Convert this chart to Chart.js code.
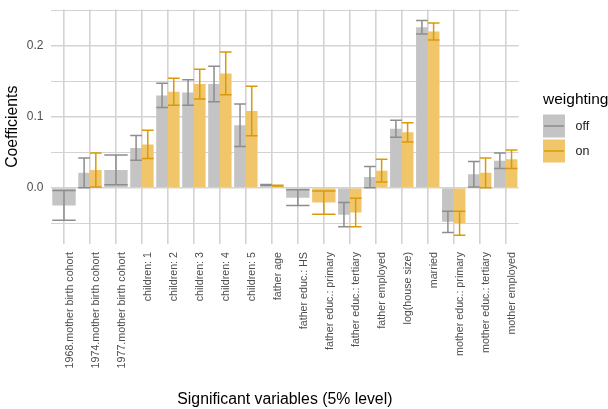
<!DOCTYPE html>
<html>
<head>
<meta charset="utf-8">
<script src="https://cdn.jsdelivr.net/npm/chart.js@4/dist/chart.umd.min.js"></script>
<style>
  html, body { margin: 0; padding: 0; background: #ffffff; }
  #wrap { width: 608px; height: 409px; }
</style>
</head>
<body>
<div id="wrap"><canvas id="chart" width="608" height="409"></canvas></div>
<script>
// Regression coefficients of the significant variables, with and without weighting
const categories = [
  "1968.mother birth cohort", "1974.mother birth cohort", "1977.mother birth cohort",
  "children: 1", "children: 2", "children: 3", "children: 4", "children: 5",
  "father age", "father educ.: HS", "father educ.: primary", "father educ.: tertiary",
  "father employed", "log(house size)", "married",
  "mother educ.: primary", "mother educ.: tertiary", "mother employed"
];

// weighting = off
const offCoef = [-0.025, 0.021, 0.025, 0.056, 0.130, 0.134, 0.146, 0.088, 0.004, -0.014, null, -0.038, 0.015, 0.083, 0.226, -0.048, 0.019, 0.038];
const offErr  = [0.021, 0.021, 0.021, 0.0175, 0.017, 0.018, 0.025, 0.030, 0.0005, 0.011, null, 0.017, 0.015, 0.012, 0.0095, 0.015, 0.018, 0.011];

// weighting = on
const onCoef = [null, 0.025, null, 0.061, 0.135, 0.146, 0.161, 0.108, 0.003, null, -0.021, -0.035, 0.024, 0.078, 0.220, -0.050, 0.021, 0.040];
const onErr  = [null, 0.024, null, 0.020, 0.019, 0.021, 0.030, 0.035, 0.0005, null, 0.0165, 0.020, 0.016, 0.0135, 0.012, 0.017, 0.021, 0.013];

// Labelled y ticks (other gridlines are minor)
const yLabelTicks = [0.0, 0.1, 0.2];

const seriesNames = ["off", "on"];
const FONT = "'Liberation Sans', Arial, Helvetica, sans-serif";
const GRID = "#d3d3d3";

// Whisker lines for each bar (estimate ± error)
const errorBars = {
  id: 'errorBars',
  afterDatasetsDraw(chart) {
    const ctx = chart.ctx;
    const y = chart.scales.y;
    chart.data.datasets.forEach((ds, di) => {
      const meta = chart.getDatasetMeta(di);
      meta.data.forEach((bar, i) => {
        const v = ds.data[i], e = ds.errors[i];
        if (v == null || e == null) return;
        const top = y.getPixelForValue(v + e);
        const bot = y.getPixelForValue(v - e);
        const half = bar.width / 2;
        ctx.save();
        ctx.strokeStyle = ds.errorColor;
        ctx.lineWidth = 1.5;
        ctx.beginPath();
        ctx.moveTo(bar.x, top); ctx.lineTo(bar.x, bot);
        ctx.moveTo(bar.x - half, top); ctx.lineTo(bar.x + half, top);
        ctx.moveTo(bar.x - half, bot); ctx.lineTo(bar.x + half, bot);
        ctx.stroke();
        ctx.restore();
      });
    });
  }
};

// Legend on the right: title plus filled keys with a whisker line
const sideLegend = {
  id: 'sideLegend',
  afterDraw(chart) {
    const ctx = chart.ctx;
    ctx.save();
    ctx.fillStyle = '#000000';
    ctx.font = '15.5px ' + FONT;
    ctx.textBaseline = 'alphabetic';
    ctx.textAlign = 'left';
    ctx.fillText('weighting', 543, 104);
    chart.data.datasets.forEach((ds, i) => {
      const kx = 543, ky = 114.5 + i * 25, kw = 22, kh = 23;
      ctx.fillStyle = ds.backgroundColor;
      ctx.fillRect(kx, ky, kw, kh);
      ctx.strokeStyle = ds.errorColor;
      ctx.lineWidth = 1.5;
      ctx.beginPath();
      ctx.moveTo(kx + 1, ky + kh / 2);
      ctx.lineTo(kx + kw - 1, ky + kh / 2);
      ctx.stroke();
      ctx.fillStyle = '#1a1a1a';
      ctx.font = '12.5px ' + FONT;
      ctx.textBaseline = 'middle';
      ctx.fillText(seriesNames[i], 575.5, ky + kh / 2 + 0.5);
    });
    ctx.restore();
  }
};

const isLabelTick = v => yLabelTicks.some(t => Math.abs(t - v) < 1e-9);

new Chart(document.getElementById('chart'), {
  type: 'bar',
  data: {
    labels: categories,
    datasets: [
      {
        label: seriesNames[0],
        data: offCoef,
        errors: offErr,
        backgroundColor: '#c4c4c4',
        errorColor: '#8d8d8d',
        borderWidth: 0,
        skipNull: true,
        categoryPercentage: 0.9,
        barPercentage: 1.0
      },
      {
        label: seriesNames[1],
        data: onCoef,
        errors: onErr,
        backgroundColor: '#f1c66a',
        errorColor: '#d99a0a',
        borderWidth: 0,
        skipNull: true,
        categoryPercentage: 0.9,
        barPercentage: 1.0
      }
    ]
  },
  options: {
    responsive: false,
    animation: false,
    devicePixelRatio: 1,
    layout: { padding: { top: 9.5, right: 89.3, left: 0, bottom: 0 } },
    plugins: {
      legend: { display: false },
      tooltip: { enabled: false }
    },
    scales: {
      x: {
        grid: {
          offset: false,
          color: GRID,
          lineWidth: 1.6,
          drawTicks: false
        },
        border: { display: false },
        ticks: {
          autoSkip: false,
          maxRotation: 90,
          minRotation: 90,
          labelOffset: 6,
          padding: 8,
          color: '#4d4d4d',
          font: { family: FONT, size: 10.7 }
        },
        title: {
          display: true,
          text: 'Significant variables (5% level)',
          color: '#000000',
          font: { family: FONT, size: 15.8 },
          padding: { top: 4, bottom: 0 }
        },
        afterFit(scale) {
          scale.height = 165;
          scale.paddingLeft = 0;
          scale.paddingRight = 0;
        }
      },
      y: {
        min: -0.0793,
        max: 0.251,
        grid: {
          color: GRID,
          lineWidth: ctx => (ctx.tick && isLabelTick(ctx.tick.value)) ? 1.6 : 1.1,
          drawTicks: false
        },
        border: { display: false },
        ticks: {
          stepSize: 0.05,
          includeBounds: false,
          padding: 7.5,
          color: '#4d4d4d',
          font: { family: FONT, size: 12 },
          callback: v => isLabelTick(v) ? (Math.round(v * 10) / 10).toFixed(1) : ''
        },
        title: {
          display: true,
          text: 'Coefficients',
          color: '#000000',
          font: { family: FONT, size: 15.8 },
          padding: { top: 3.5, bottom: 0 }
        },
        afterFit(scale) {
          scale.width = 51;
          scale.paddingTop = 0;
          scale.paddingBottom = 0;
        }
      }
    }
  },
  plugins: [errorBars, sideLegend]
});
</script>
</body>
</html>
